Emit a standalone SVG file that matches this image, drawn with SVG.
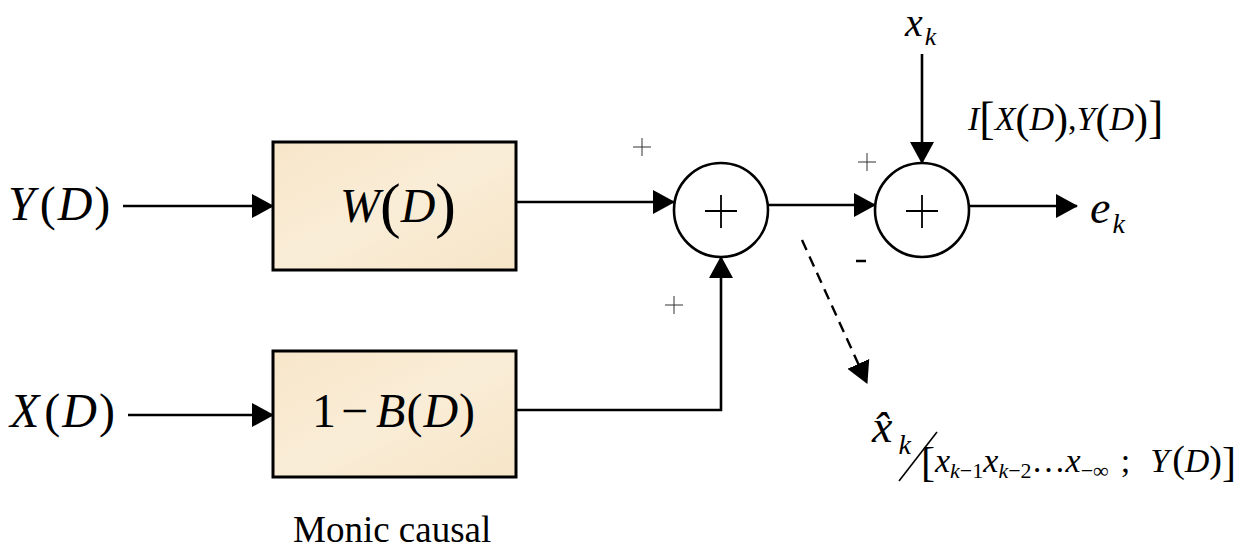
<svg xmlns="http://www.w3.org/2000/svg" width="1244" height="550" viewBox="0 0 1244 550">
  <style>
    text { font-family: 'Liberation Serif', 'DejaVu Serif', serif; fill: #000; }
    .it { font-style: italic; }
    .wire { fill: none; stroke: #000; stroke-width: 2.6; }
    .dash { fill: none; stroke: #000; stroke-width: 2.4; stroke-dasharray: 11 7; }
    .block { fill: url(#paper); stroke: #000; stroke-width: 3; }
    .sum { fill: #fff; stroke: #000; stroke-width: 2.6; }
    .cross { stroke: #000; stroke-width: 1.8; fill: none; }
    .sign { stroke: #333; stroke-width: 1; fill: none; }
  </style>
  <defs>
    <linearGradient id="paper" x1="0" y1="0" x2="1" y2="1">
      <stop offset="0" stop-color="#f7e6c9"/>
      <stop offset="0.5" stop-color="#faedd7"/>
      <stop offset="1" stop-color="#f6e5c7"/>
    </linearGradient>
    <marker id="arrow" markerUnits="userSpaceOnUse" markerWidth="22" markerHeight="24" refX="21" refY="12" orient="auto">
      <path d="M0,0 L22,12 L0,24 Z" fill="#000"/>
    </marker>
  </defs>

  <!-- input labels -->
  <g id="in-y">
    <text x="8" y="220" font-size="48"><tspan class="it">Y</tspan><tspan dx="5">(</tspan><tspan class="it" dx="2">D</tspan><tspan dx="2">)</tspan></text>
  </g>
  <g id="in-x">
    <text x="10" y="427" font-size="48"><tspan class="it">X</tspan><tspan dx="5">(</tspan><tspan class="it" dx="2">D</tspan><tspan dx="2">)</tspan></text>
  </g>

  <!-- filter blocks -->
  <g id="block-w">
    <rect class="block" x="273" y="142" width="243" height="128"/>
    <text x="340" y="222" font-size="48"><tspan class="it">W</tspan><tspan font-size="62" dy="4">(</tspan><tspan class="it" dy="-4">D</tspan><tspan font-size="62" dy="4">)</tspan></text>
  </g>
  <g id="block-b">
    <rect class="block" x="273" y="351" width="243" height="126"/>
    <text x="312" y="427" font-size="48">1<tspan dx="5">−</tspan><tspan class="it" dx="8">B</tspan><tspan dx="1">(</tspan><tspan class="it" dx="1">D</tspan><tspan dx="1">)</tspan></text>
    <text x="293" y="542" font-size="37">Monic causal</text>
  </g>

  <!-- summing junctions -->
  <g id="sum-1">
    <circle class="sum" cx="721" cy="210" r="47"/>
    <path class="cross" d="M705 211 H737 M721 195 V228"/>
  </g>
  <g id="sum-2">
    <circle class="sum" cx="922" cy="210" r="47"/>
    <path class="cross" d="M906 211 H938 M922 195 V228"/>
  </g>

  <!-- sign marks -->
  <g id="signs">
    <path class="sign" d="M633 147 H651 M642 138 V156"/>
    <path class="sign" d="M858 162 H876 M867 153 V171"/>
    <path class="sign" d="M665 305 H683 M674 296 V314"/>
    <path d="M856 261 H866" stroke="#000" stroke-width="2.5"/>
  </g>

  <!-- connectors -->
  <g id="connectors">
    <line class="wire" x1="123" y1="206" x2="273" y2="206" marker-end="url(#arrow)"/>
    <line class="wire" x1="128" y1="415" x2="273" y2="415" marker-end="url(#arrow)"/>
    <line class="wire" x1="516" y1="202" x2="674" y2="202" marker-end="url(#arrow)"/>
    <path class="wire" d="M516 410 H721 V257" marker-end="url(#arrow)"/>
    <line class="wire" x1="768" y1="205" x2="875" y2="205" marker-end="url(#arrow)"/>
    <line class="wire" x1="922" y1="54" x2="922" y2="163" marker-end="url(#arrow)"/>
    <line class="wire" x1="969" y1="206" x2="1077" y2="206" marker-end="url(#arrow)"/>
    <line class="dash" x1="802" y1="240" x2="867" y2="383" marker-end="url(#arrow)"/>
  </g>

  <!-- output and side labels -->
  <g id="label-xk">
    <text class="it" x="905" y="36" font-size="40">x<tspan font-size="26" dx="2" dy="9">k</tspan></text>
  </g>
  <g id="label-info">
    <text x="968" y="130" font-size="34"><tspan class="it">I</tspan><tspan font-size="46" dy="4">[</tspan><tspan class="it" dy="-4">X</tspan><tspan font-size="42" dy="3">(</tspan><tspan class="it" dy="-3">D</tspan><tspan font-size="42" dy="3">)</tspan><tspan dy="-3">,</tspan><tspan class="it">Y</tspan><tspan font-size="42" dy="3">(</tspan><tspan class="it" dy="-3">D</tspan><tspan font-size="42" dy="3">)</tspan><tspan font-size="46">]</tspan></text>
  </g>
  <g id="label-ek">
    <text class="it" x="1090" y="223" font-size="46">e<tspan font-size="28" dx="2" dy="10">k</tspan></text>
  </g>
  <g id="label-estimate">
    <text class="it" x="872" y="442" font-size="46">x̂<tspan font-size="28" dx="6" dy="12">k</tspan></text>
    <line x1="899" y1="481" x2="937" y2="432" stroke="#000" stroke-width="1.6"/>
    <text x="921" y="472" font-size="34"><tspan font-size="42" dy="4">[</tspan><tspan class="it" dy="-4">x</tspan><tspan class="it" font-size="22" dy="6">k</tspan><tspan font-size="22">−1</tspan><tspan class="it" dy="-6">x</tspan><tspan class="it" font-size="22" dy="6">k</tspan><tspan font-size="22">−2</tspan><tspan dy="-6">…</tspan><tspan class="it">x</tspan><tspan font-size="22" dy="6">−∞</tspan><tspan dy="-6" dx="12">;</tspan><tspan class="it" dx="20">Y</tspan><tspan dx="3" font-size="38">(</tspan><tspan class="it">D</tspan><tspan font-size="38">)</tspan><tspan font-size="42" dy="4">]</tspan></text>
  </g>
</svg>
